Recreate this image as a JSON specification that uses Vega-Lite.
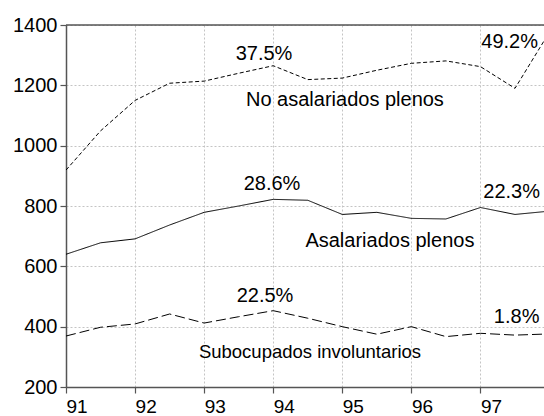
{
  "$schema": "https://vega.github.io/schema/vega-lite/v6.json",
  "width": 478,
  "height": 362,
  "autosize": {"type": "none"},
  "padding": {"left": 66, "top": 25, "right": 0, "bottom": 29},
  "background": "white",
  "config": {
    "view": {"stroke": null},
    "font": "Liberation Sans",
    "axis": {"labelFont": "Liberation Sans", "labelColor": "#000", "labelFontSize": 20}
  },
  "datasets": {
    "lines": [
      {"t": 91.0, "series": "No asalariados plenos", "v": 919},
      {"t": 91.5, "series": "No asalariados plenos", "v": 1049},
      {"t": 92.0, "series": "No asalariados plenos", "v": 1150},
      {"t": 92.5, "series": "No asalariados plenos", "v": 1207},
      {"t": 93.0, "series": "No asalariados plenos", "v": 1214},
      {"t": 93.5, "series": "No asalariados plenos", "v": 1240},
      {"t": 94.0, "series": "No asalariados plenos", "v": 1265},
      {"t": 94.5, "series": "No asalariados plenos", "v": 1219},
      {"t": 95.0, "series": "No asalariados plenos", "v": 1224},
      {"t": 95.5, "series": "No asalariados plenos", "v": 1250},
      {"t": 96.0, "series": "No asalariados plenos", "v": 1273},
      {"t": 96.5, "series": "No asalariados plenos", "v": 1281},
      {"t": 97.0, "series": "No asalariados plenos", "v": 1262},
      {"t": 97.5, "series": "No asalariados plenos", "v": 1190},
      {"t": 98.0, "series": "No asalariados plenos", "v": 1377},
      {"t": 91.0, "series": "Asalariados plenos", "v": 640},
      {"t": 91.5, "series": "Asalariados plenos", "v": 678},
      {"t": 92.0, "series": "Asalariados plenos", "v": 691},
      {"t": 92.5, "series": "Asalariados plenos", "v": 737},
      {"t": 93.0, "series": "Asalariados plenos", "v": 779},
      {"t": 93.5, "series": "Asalariados plenos", "v": 800},
      {"t": 94.0, "series": "Asalariados plenos", "v": 822},
      {"t": 94.5, "series": "Asalariados plenos", "v": 819},
      {"t": 95.0, "series": "Asalariados plenos", "v": 772},
      {"t": 95.5, "series": "Asalariados plenos", "v": 779},
      {"t": 96.0, "series": "Asalariados plenos", "v": 759},
      {"t": 96.5, "series": "Asalariados plenos", "v": 757},
      {"t": 97.0, "series": "Asalariados plenos", "v": 795},
      {"t": 97.5, "series": "Asalariados plenos", "v": 772},
      {"t": 98.0, "series": "Asalariados plenos", "v": 783},
      {"t": 91.0, "series": "Subocupados involuntarios", "v": 369},
      {"t": 91.5, "series": "Subocupados involuntarios", "v": 398},
      {"t": 92.0, "series": "Subocupados involuntarios", "v": 409},
      {"t": 92.5, "series": "Subocupados involuntarios", "v": 442},
      {"t": 93.0, "series": "Subocupados involuntarios", "v": 412},
      {"t": 93.5, "series": "Subocupados involuntarios", "v": 433},
      {"t": 94.0, "series": "Subocupados involuntarios", "v": 453},
      {"t": 94.5, "series": "Subocupados involuntarios", "v": 428},
      {"t": 95.0, "series": "Subocupados involuntarios", "v": 400},
      {"t": 95.5, "series": "Subocupados involuntarios", "v": 375},
      {"t": 96.0, "series": "Subocupados involuntarios", "v": 400},
      {"t": 96.5, "series": "Subocupados involuntarios", "v": 367},
      {"t": 97.0, "series": "Subocupados involuntarios", "v": 378},
      {"t": 97.5, "series": "Subocupados involuntarios", "v": 372},
      {"t": 98.0, "series": "Subocupados involuntarios", "v": 376}
    ],
    "labels": [
      {"t": 93.867, "v": 1284, "label": "37.5%", "size": "big"},
      {"t": 95.038, "v": 1131, "label": "No asalariados plenos", "size": "big"},
      {"t": 97.423, "v": 1324, "label": "49.2%", "size": "big"},
      {"t": 93.983, "v": 853, "label": "28.6%", "size": "big"},
      {"t": 95.689, "v": 665, "label": "Asalariados plenos", "size": "big"},
      {"t": 93.881, "v": 483, "label": "22.5%", "size": "big"},
      {"t": 94.532, "v": 295, "label": "Subocupados involuntarios", "size": "small"},
      {"t": 97.452, "v": 825, "label": "22.3%", "size": "big"},
      {"t": 97.524, "v": 411, "label": "1.8%", "size": "big"}
    ],
    "border": [{"v": 1400}]
  },
  "layer": [
    {
      "data": {"name": "lines"},
      "mark": {"type": "line", "color": "#000", "strokeWidth": 1, "clip": true},
      "encoding": {
        "x": {
          "field": "t", "type": "quantitative",
          "scale": {"domain": [91, 97.92], "nice": false, "zero": false},
          "axis": {
            "title": null,
            "values": [91, 91.5, 92, 92.5, 93, 93.5, 94, 94.5, 95, 95.5, 96, 96.5, 97, 97.5],
            "labelExpr": "datum.value % 1 == 0 ? format(datum.value, 'd') : ''",
            "labelAlign": "left",
            "labelFlush": false,
            "labelOverlap": false,
            "labelFontSize": 19,
            "labelPadding": 4,
            "labelBaseline": "top",
            "tickSize": 6,
            "tickColor": "#555",
            "tickWidth": 1.2,
            "domainColor": "#555",
            "domainWidth": 1.5,
            "grid": true,
            "gridColor": "#c4c4c4",
            "gridDash": [2, 2],
            "gridWidth": 1,
            "gridOpacity": {"condition": {"test": "datum.value % 1 != 0", "value": 0}, "value": 1}
          }
        },
        "y": {
          "field": "v", "type": "quantitative",
          "scale": {"domain": [200, 1400], "nice": false, "zero": false},
          "axis": {
            "title": null,
            "values": [200, 400, 600, 800, 1000, 1200, 1400],
            "format": "d",
            "labelPadding": 3,
            "tickSize": 6,
            "tickColor": "#555",
            "tickWidth": 1.2,
            "domainColor": "#555",
            "domainWidth": 1.5,
            "grid": true,
            "gridColor": "#c4c4c4",
            "gridDash": [2, 2],
            "gridWidth": 1
          }
        },
        "detail": {"field": "series"},
        "strokeDash": {
          "field": "series", "type": "nominal", "legend": null,
          "scale": {
            "domain": ["No asalariados plenos", "Asalariados plenos", "Subocupados involuntarios"],
            "range": [[4, 2.5], [1, 0], [10, 4]]
          }
        }
      }
    },
    {
      "data": {"name": "border"},
      "mark": {"type": "rule", "color": "#555", "strokeWidth": 1.5},
      "encoding": {"y": {"field": "v", "type": "quantitative", "title": null}}
    },
    {
      "data": {"name": "labels"},
      "transform": [{"filter": "datum.size == 'big'"}],
      "mark": {"type": "text", "font": "Liberation Sans", "fontSize": 20, "color": "#000", "align": "center", "baseline": "alphabetic"},
      "encoding": {
        "x": {"field": "t", "type": "quantitative", "title": null},
        "y": {"field": "v", "type": "quantitative", "title": null},
        "text": {"field": "label"}
      }
    },
    {
      "data": {"name": "labels"},
      "transform": [{"filter": "datum.size == 'small'"}],
      "mark": {"type": "text", "font": "Liberation Sans", "fontSize": 18.5, "color": "#000", "align": "center", "baseline": "alphabetic"},
      "encoding": {
        "x": {"field": "t", "type": "quantitative", "title": null},
        "y": {"field": "v", "type": "quantitative", "title": null},
        "text": {"field": "label"}
      }
    }
  ]
}
